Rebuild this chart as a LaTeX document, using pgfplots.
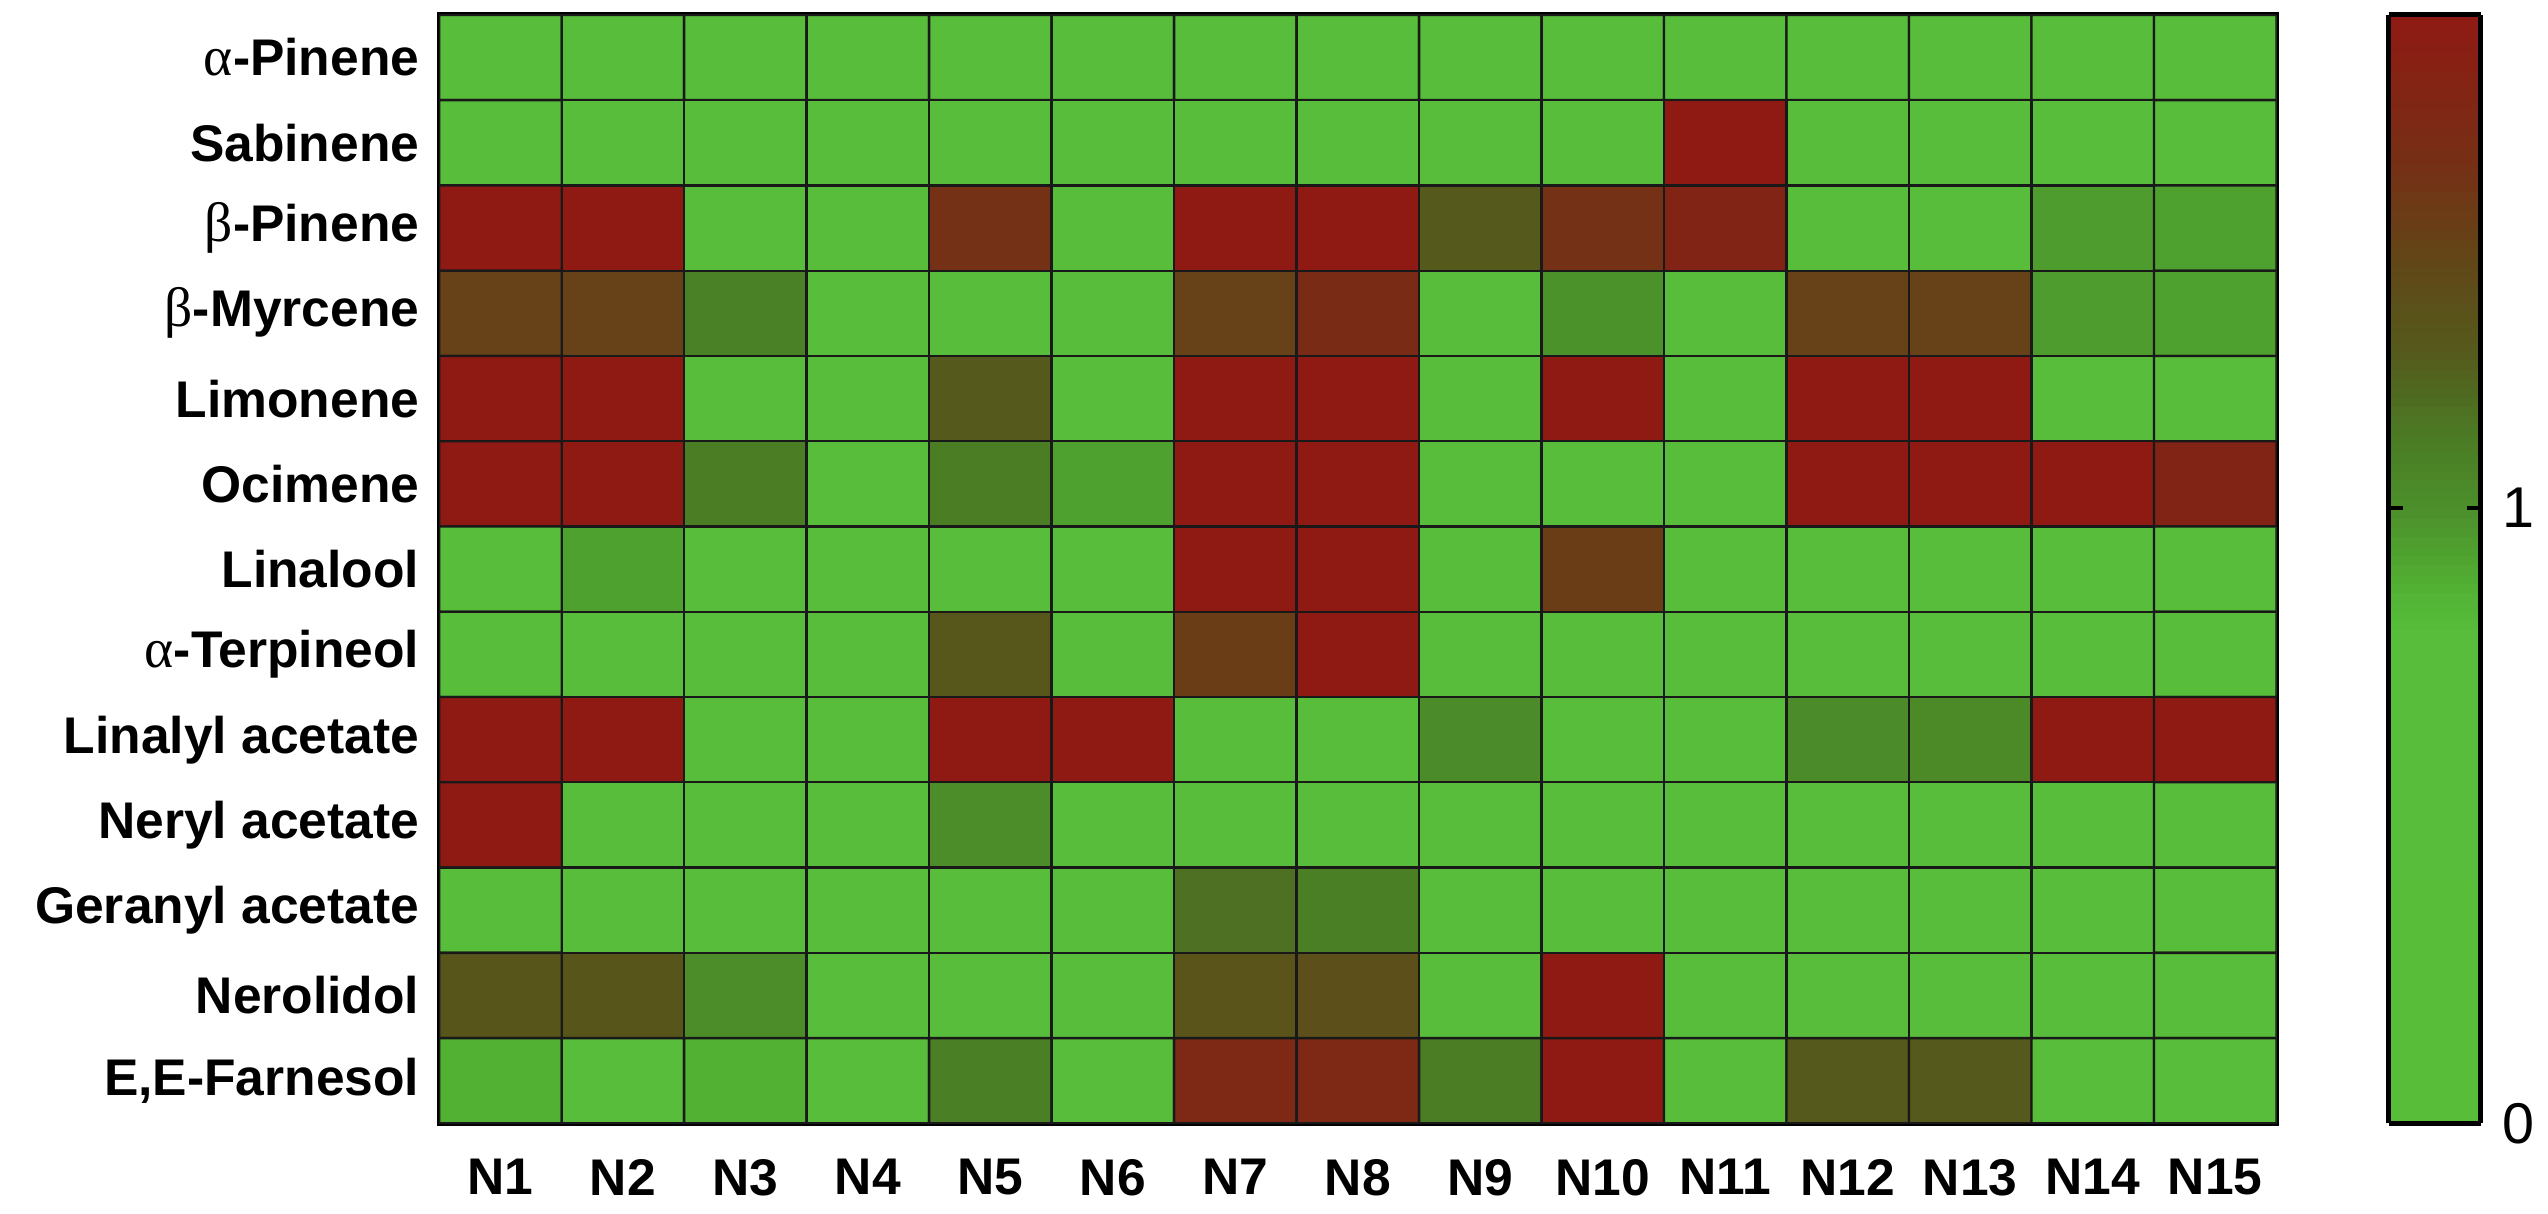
\documentclass[border=0pt]{standalone}
\usepackage{pgfplots}
\pgfplotsset{compat=1.18}
\usepackage{fontspec}
\setmainfont{Liberation Sans}
\newfontfamily\grk{Liberation Serif}
\newcommand{\ga}{{\grk\mdseries\fontsize{14}{15}\selectfont α}}
\newcommand{\gb}{{\grk\mdseries\fontsize{14}{15}\selectfont β}}
\begin{document}
\begin{tikzpicture}
\begin{axis}[
 name=main,
 scale only axis,
 width=463.25pt, height=279.5pt,
 xmin=-0.5, xmax=14.5, ymin=-0.5, ymax=12.5,
 y dir=reverse,
 axis line style={line width=1.25pt},
 xtick={0,...,14}, ytick={0,...,12},
 xticklabels={N1,N2,N3,N4,N5,N6,N7,N8,N9,N10,N11,N12,N13,N14,N15},
 yticklabels={{\ga-Pinene},Sabinene,{\gb-Pinene},{\gb-Myrcene},Limonene,Ocimene,Linalool,{\ga-Terpineol},Linalyl acetate,Neryl acetate,Geranyl acetate,Nerolidol,{E,E-Farnesol}},
 major tick length=0pt,
 tick label style={font=\bfseries\fontsize{13}{15}\selectfont},
 xticklabel style={yshift=-5.5pt},
 yticklabel style={xshift=-1.5pt},
 colormap={gr}{rgb255(0pt)=(88,190,58); rgb255(80pt)=(87,189,58); rgb255(87pt)=(82,177,51); rgb255(100pt)=(76,143,42); rgb255(112pt)=(75,122,36); rgb255(125pt)=(85,90,28); rgb255(138pt)=(95,74,24); rgb255(157pt)=(119,46,21); rgb255(180pt)=(143,26,20)},
 point meta min=0, point meta max=1.8,
 colorbar sampled,
 colorbar style={
   at={(parent axis.north east)}, anchor=north west, xshift=19.75pt,
   width=23.25pt,
   samples=120,
   xmin=0, xmax=1, enlargelimits=false,
   ytick={0,1}, yticklabels={0,1},
   axis line style={line width=1.25pt},
   tick align=inside, major tick length=3.5pt,
   major tick style={line width=1pt, black},
   ytick pos=both, yticklabel pos=right,
   yticklabel style={font=\fontsize{14.5}{16}\selectfont, xshift=2pt},
 },
]
\addplot[matrix plot*, mesh/cols=15, point meta=explicit, draw=black!90, line width=0.6pt] table[meta=C] {
x y C
0 0 0.5
1 0 0.5
2 0 0.5
3 0 0.5
4 0 0.5
5 0 0.5
6 0 0.5
7 0 0.5
8 0 0.5
9 0 0.5
10 0 0.5
11 0 0.5
12 0 0.5
13 0 0.5
14 0 0.5
0 1 0.5
1 1 0.5
2 1 0.5
3 1 0.5
4 1 0.5
5 1 0.5
6 1 0.5
7 1 0.5
8 1 0.5
9 1 0.5
10 1 1.8
11 1 0.5
12 1 0.5
13 1 0.5
14 1 0.5
0 2 1.8
1 2 1.8
2 2 0.5
3 2 0.5
4 2 1.55
5 2 0.5
6 2 1.8
7 2 1.8
8 2 1.25
9 2 1.55
10 2 1.68
11 2 0.5
12 2 0.5
13 2 0.95
14 2 0.93
0 3 1.44
1 3 1.44
2 3 1.08
3 3 0.5
4 3 0.5
5 3 0.5
6 3 1.44
7 3 1.6
8 3 0.5
9 3 0.99
10 3 0.5
11 3 1.44
12 3 1.44
13 3 0.95
14 3 0.93
0 4 1.8
1 4 1.8
2 4 0.5
3 4 0.5
4 4 1.25
5 4 0.5
6 4 1.8
7 4 1.8
8 4 0.5
9 4 1.8
10 4 0.5
11 4 1.8
12 4 1.8
13 4 0.5
14 4 0.5
0 5 1.8
1 5 1.8
2 5 1.1
3 5 0.5
4 5 1.1
5 5 0.93
6 5 1.8
7 5 1.8
8 5 0.5
9 5 0.5
10 5 0.5
11 5 1.8
12 5 1.8
13 5 1.8
14 5 1.68
0 6 0.5
1 6 0.93
2 6 0.5
3 6 0.5
4 6 0.5
5 6 0.5
6 6 1.8
7 6 1.8
8 6 0.5
9 6 1.47
10 6 0.5
11 6 0.5
12 6 0.5
13 6 0.5
14 6 0.5
0 7 0.5
1 7 0.5
2 7 0.5
3 7 0.5
4 7 1.28
5 7 0.5
6 7 1.47
7 7 1.8
8 7 0.5
9 7 0.5
10 7 0.5
11 7 0.5
12 7 0.5
13 7 0.5
14 7 0.5
0 8 1.8
1 8 1.8
2 8 0.5
3 8 0.5
4 8 1.8
5 8 1.8
6 8 0.5
7 8 0.5
8 8 1.02
9 8 0.5
10 8 0.5
11 8 1.02
12 8 1.03
13 8 1.8
14 8 1.8
0 9 1.8
1 9 0.5
2 9 0.5
3 9 0.5
4 9 1.01
5 9 0.5
6 9 0.5
7 9 0.5
8 9 0.5
9 9 0.5
10 9 0.5
11 9 0.5
12 9 0.5
13 9 0.5
14 9 0.5
0 10 0.5
1 10 0.5
2 10 0.5
3 10 0.5
4 10 0.5
5 10 0.5
6 10 1.16
7 10 1.09
8 10 0.5
9 10 0.5
10 10 0.5
11 10 0.5
12 10 0.5
13 10 0.5
14 10 0.5
0 11 1.29
1 11 1.29
2 11 1.01
3 11 0.5
4 11 0.5
5 11 0.5
6 11 1.31
7 11 1.34
8 11 0.5
9 11 1.8
10 11 0.5
11 11 0.5
12 11 0.5
13 11 0.5
14 11 0.5
0 12 0.87
1 12 0.5
2 12 0.87
3 12 0.5
4 12 1.09
5 12 0.5
6 12 1.63
7 12 1.63
8 12 1.1
9 12 1.8
10 12 0.5
11 12 1.25
12 12 1.25
13 12 0.5
14 12 0.5
};
\end{axis}
\path (main.south west) ++(-110.75pt,-22.75pt) coordinate (bbsw);
\path (main.north west) ++(526.25pt,3.75pt) coordinate (bbne);
\path (bbsw) rectangle (bbne);
\end{tikzpicture}
\end{document}
